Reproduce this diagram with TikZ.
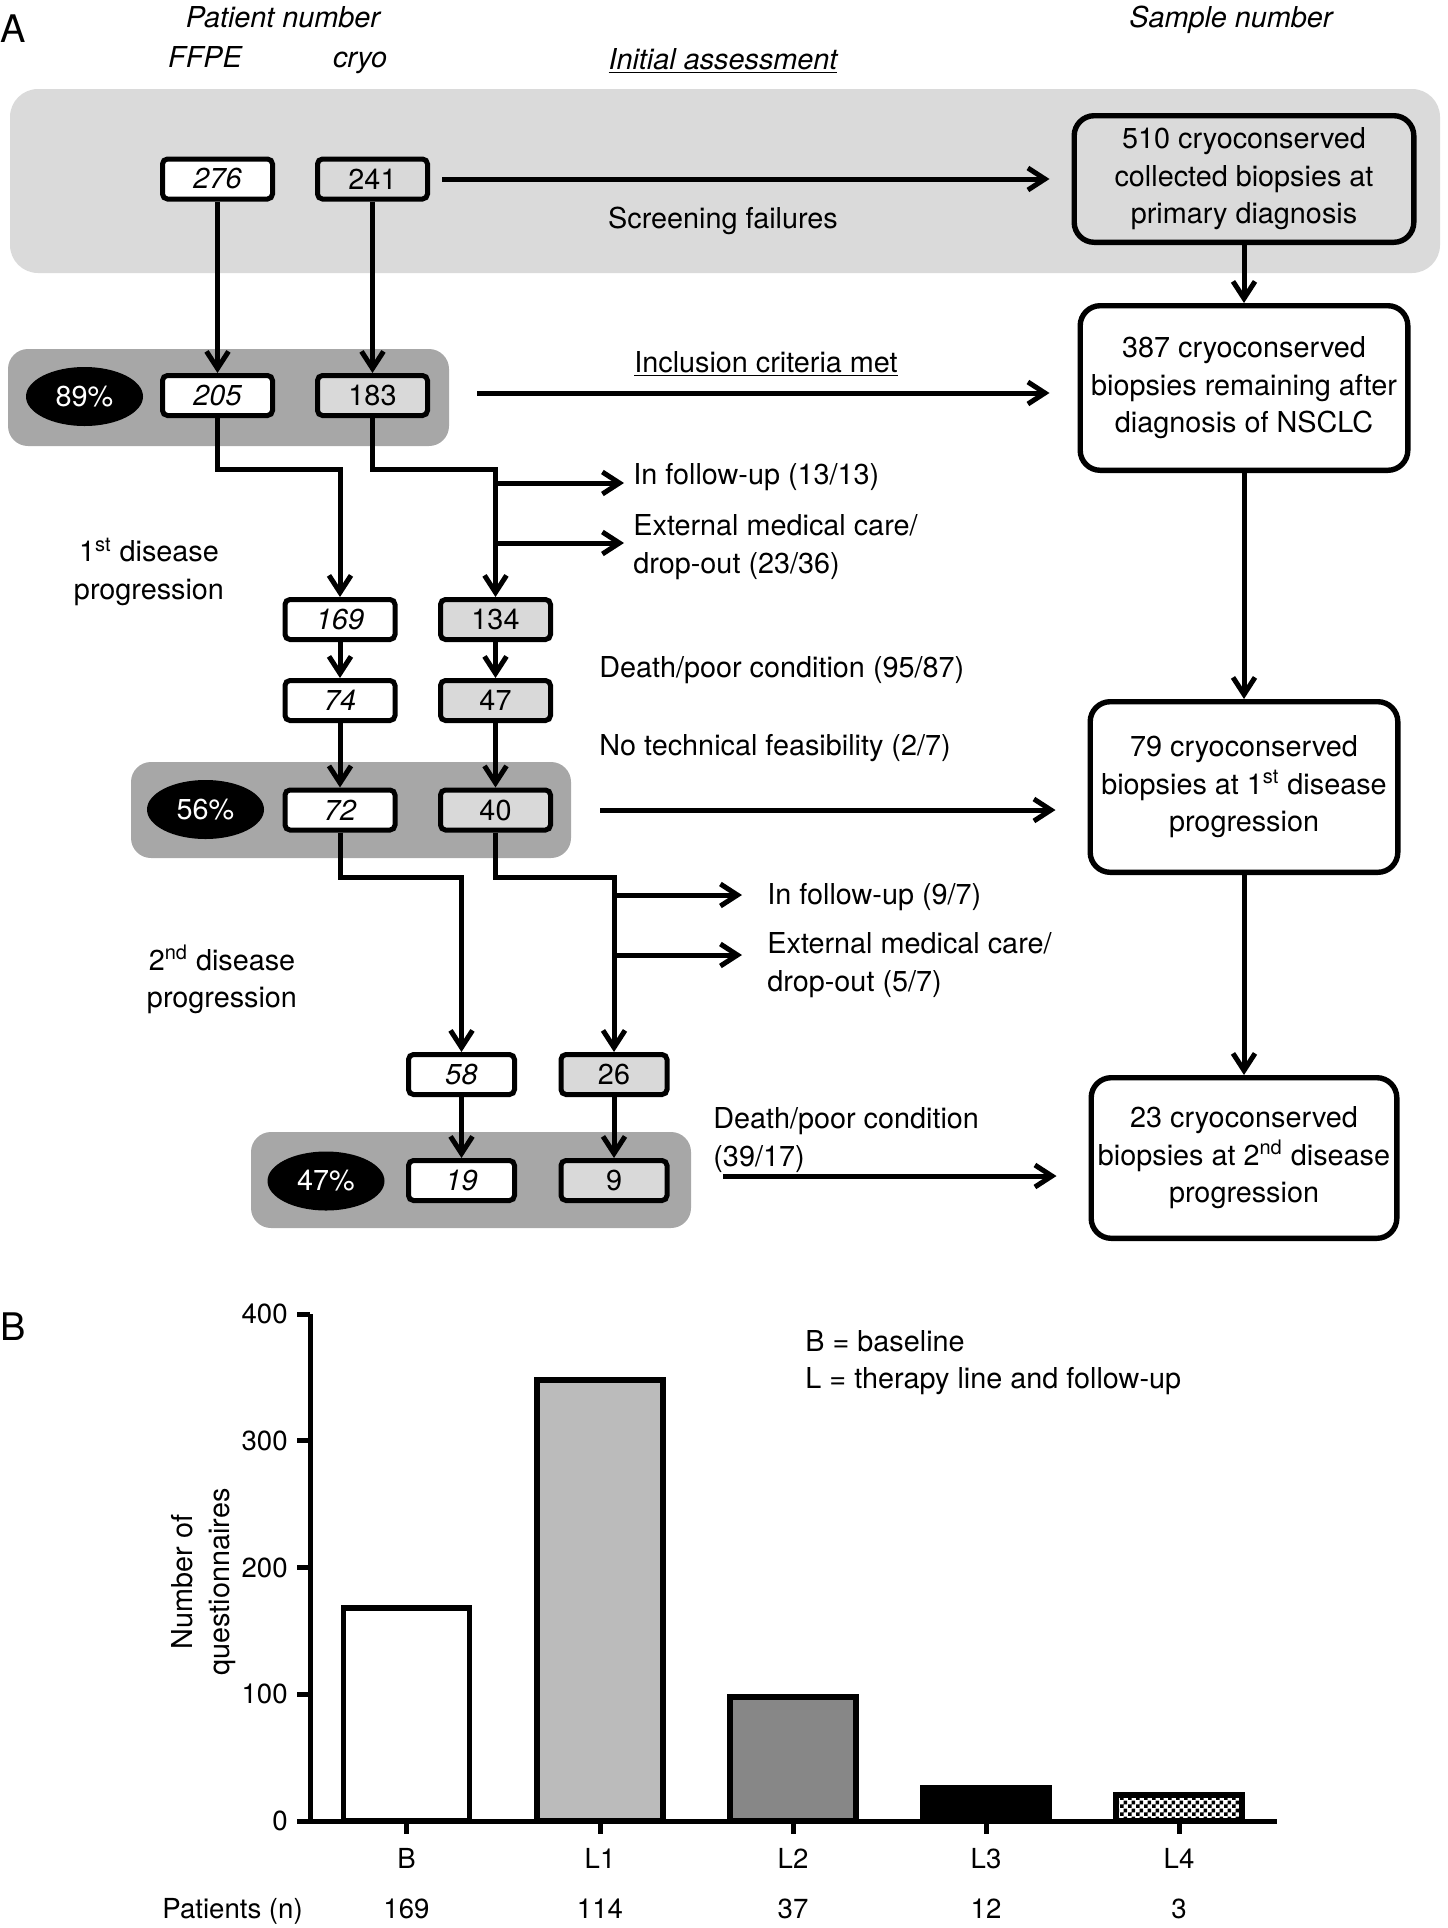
\documentclass[tikz,border=0pt]{standalone}
\usepackage{fontspec}
\setmainfont{TeX Gyre Heros}
\usetikzlibrary{arrows.meta,shapes.geometric,patterns}
\definecolor{lightband}{HTML}{DADADA}
\definecolor{darkband}{HTML}{A7A7A7}
\definecolor{cryogray}{HTML}{D9D9D9}
\definecolor{barlight}{HTML}{BBBBBB}
\definecolor{bardark}{HTML}{878787}
\newcommand\bodysize{\fontsize{14.4}{18.8}\selectfont}
\newcommand\chartsize{\fontsize{13.8}{18}\selectfont}
\newcommand\panelsize{\fontsize{19}{22}\selectfont}
\pgfdeclarepatternformonly{finechecker}{\pgfpointorigin}{\pgfqpoint{4pt}{4pt}}{\pgfqpoint{4pt}{4pt}}{%
  \pgfpathrectangle{\pgfpointorigin}{\pgfqpoint{2pt}{2pt}}%
  \pgfpathrectangle{\pgfqpoint{2pt}{2pt}}{\pgfqpoint{2pt}{2pt}}%
  \pgfusepath{fill}}
\begin{document}
\begin{tikzpicture}[x=0.5pt,y=-0.5pt,
    font=\bodysize,
    every node/.style={inner sep=0pt},
    band/.style={rectangle, rounded corners=10pt, fill=darkband, minimum width=220pt, minimum height=48pt},
    numbox/.style={draw, line width=2.5pt, rounded corners=2.5pt, minimum width=55pt, minimum height=20pt},
    ffpe/.style={numbox, fill=white, font=\bodysize\itshape},
    cryo/.style={numbox, fill=cryogray},
    share/.style={ellipse, fill=black, text=white, minimum width=58.5pt, minimum height=29.5pt},
    sample/.style={draw, line width=2.7pt, rounded corners=10pt, align=center, fill=white},
    arr/.style={line width=2.5pt, -{Straight Barb[length=8.5pt,width=11pt]}},
    note/.style={anchor=base west},
    bar/.style={draw, line width=2.8pt},
    axis/.style={line width=2.5pt}]
  \useasboundingbox (0,0) rectangle (1447,1928);

  % panel A headings
  \node[anchor=base west, font=\panelsize] (pA) at (0,42) {A};
  \node[anchor=base, font=\bodysize\itshape] (hpat) at (283,27) {Patient number};
  \node[anchor=base, font=\bodysize\itshape] (hffpe) at (205,67) {FFPE};
  \node[anchor=base, font=\bodysize\itshape] (hcryo) at (360,67) {cryo};
  \node[anchor=base, font=\bodysize\itshape] (hinit) at (723,69) {\underline{Initial assessment}};
  \node[anchor=base, font=\bodysize\itshape] (hsample) at (1231,27) {Sample number};

  % bands
  \node[band, fill=lightband, rounded corners=14pt, minimum width=715pt, minimum height=92pt] (init) at (725,181) {};
  \node[band, minimum width=220.5pt, minimum height=48.5pt] (lvl1) at (228.5,397.5) {};
  \node[band] (lvl2) at (351,810) {};
  \node[band] (lvl3) at (471,1180) {};

  % patient numbers
  \node[ffpe] (b276) at (217.5,179) {276};
  \node[cryo] (b241) at (372.5,179) {241};
  \node[ffpe] (b205) at (217.5,395.5) {205};
  \node[cryo] (b183) at (372.5,395.5) {183};
  \node[ffpe] (b169) at (340,619.5) {169};
  \node[cryo] (b134) at (495.5,619.5) {134};
  \node[ffpe] (b74) at (340,700.5) {74};
  \node[cryo] (b47) at (495.5,700.5) {47};
  \node[ffpe] (b72) at (340,810) {72};
  \node[cryo] (b40) at (495.5,810) {40};
  \node[ffpe, minimum width=53pt] (b58) at (461.5,1074.5) {58};
  \node[cryo, minimum width=53pt] (b26) at (614,1074.5) {26};
  \node[ffpe, minimum width=53pt] (b19) at (461.5,1180.5) {19};
  \node[cryo, minimum width=53pt] (b9) at (614,1180.5) {9};

  \node[share] (p89) at (84.5,396.5) {89\%};
  \node[share] (p56) at (205.5,809.5) {56\%};
  \node[share] (p47) at (326,1181) {47\%};

  % sample numbers
  \node[sample, fill=lightband, minimum width=169.8pt, minimum height=63.3pt] (s510) at (1244,179)
    {510 cryoconserved\\collected biopsies at\\primary diagnosis};
  \node[sample, minimum width=163.8pt, minimum height=82.3pt] (s387) at (1244,388)
    {387 cryoconserved\\biopsies remaining after\\diagnosis of NSCLC};
  \node[sample, minimum width=153.8pt, minimum height=85.3pt] (s79) at (1244,787)
    {79 cryoconserved\\biopsies at 1\textsuperscript{st} disease\\progression};
  \node[sample, minimum width=152.8pt, minimum height=80.3pt] (s23) at (1244,1158)
    {23 cryoconserved\\biopsies at 2\textsuperscript{nd} disease\\progression};

  % labels
  \node[anchor=base] (screen) at (723,228) {Screening failures};
  \node[anchor=base] (incl) at (766,372) {\underline{Inclusion criteria met}};
  \node[note] (fu1) at (633,484) {In follow-up (13/13)};
  \node[anchor=west, align=left] (ext1) at (633,547) {External medical care/\\drop-out (23/36)};
  \node[align=center] (dis1) at (149,572) {1\textsuperscript{st} disease\\progression};
  \node[note] (dp1) at (599,677) {Death/poor condition (95/87)};
  \node[note] (ntf) at (599,755) {No technical feasibility (2/7)};
  \node[note] (fu2) at (767,904) {In follow-up (9/7)};
  \node[anchor=west, align=left] (ext2) at (767,965) {External medical care/\\drop-out (5/7)};
  \node[align=center] (dis2) at (222,979.5) {2\textsuperscript{nd} disease\\progression};
  \node[anchor=west, align=left] (dp2) at (713,1140) {Death/poor condition\\(39/17)};

  % connectors
  \draw[arr] (b276) -- (b205);
  \draw[arr] (b241) -- (b183);
  \draw[arr] ([xshift=6pt]b241.east) -- ([xshift=-11pt]s510.west);
  \draw[arr] ([xshift=14pt,yshift=2.25pt]lvl1.east) -- ([xshift=-14pt,yshift=2.25pt]lvl1.east -| s387.west);
  \draw[arr] (b205.south) |- (b169.north |- 0,469) -- (b169.north);
  \draw[arr] (b183.south) |- (b134.north |- 0,469) -- (b134.north);
  \coordinate (j1) at (b134.north |- 0,483);
  \coordinate (j2) at (b134.north |- 0,543);
  \draw[arr] (j1) -- ([xshift=-4.5pt]j1 -| fu1.west);
  \draw[arr] (j2) -- ([xshift=-4.5pt]j2 -| ext1.west);
  \draw[arr] (b169) -- (b74);
  \draw[arr] (b134) -- (b47);
  \draw[arr] (b74) -- (b72);
  \draw[arr] (b47) -- (b40);
  \draw[arr] ([xshift=14.5pt]lvl2.east) -- ([xshift=-16pt]lvl2.east -| s79.west);
  \draw[arr] (b72.south) |- (b58.north |- 0,877) -- (b58.north);
  \draw[arr] (b40.south) |- (b26.north |- 0,877) -- (b26.north);
  \coordinate (j3) at (b26.north |- 0,895);
  \coordinate (j4) at (b26.north |- 0,955);
  \draw[arr] (j3) -- ([xshift=-12.5pt]j3 -| fu2.west);
  \draw[arr] (j4) -- ([xshift=-12.5pt]j4 -| ext2.west);
  \draw[arr] (b58) -- (b19);
  \draw[arr] (b26) -- (b9);
  \draw[arr] ([xshift=16pt,yshift=2pt]lvl3.east) -- ([xshift=-16pt,yshift=2pt]lvl3.east -| s23.west);
  \draw[arr] (s510) -- (s387);
  \draw[arr] (s387) -- (s79);
  \draw[arr] (s79) -- (s23);

  % panel B
  \node[anchor=base west, font=\panelsize] (pB) at (0,1340) {B};
  \draw[bar, fill=white] (343.5,1821) rectangle (469.5,1608);
  \draw[bar, fill=barlight] (537,1821) rectangle (663,1380);
  \draw[bar, fill=bardark] (730,1821) rectangle (856,1697);
  \draw[bar, fill=black] (923,1821) rectangle (1049,1788);
  \draw[bar, preaction={fill=white}, pattern=finechecker] (1116,1821) rectangle (1242,1795);
  \draw[axis] (310,1314) -- (310,1821) -- (1277,1821);
  \foreach \v/\yy in {0/1821,100/1694.25,200/1567.5,300/1440.75,400/1314}{
    \draw[axis] (297,\yy) -- (310,\yy);
    \node[anchor=east, font=\chartsize] at (288,\yy) {\v};
  }
  \foreach \c/\cat/\n in {406.5/B/169,600/L1/114,793/L2/37,986/L3/12,1179/L4/3}{
    \draw[axis] (\c,1821) -- (\c,1834);
    \node[anchor=base, font=\chartsize] at (\c,1868) {\cat};
    \node[anchor=base, font=\chartsize] at (\c,1918) {\n};
  }
  \node[anchor=base west, font=\chartsize] (pts) at (162,1918) {Patients (n)};
  \node[rotate=90, align=center] (ylab) at (203.5,1582) {Number of\\questionnaires};
  \node[anchor=west, align=left] (legend) at (805,1362.5) {B = baseline\\L = therapy line and follow-up};
\end{tikzpicture}
\end{document}
